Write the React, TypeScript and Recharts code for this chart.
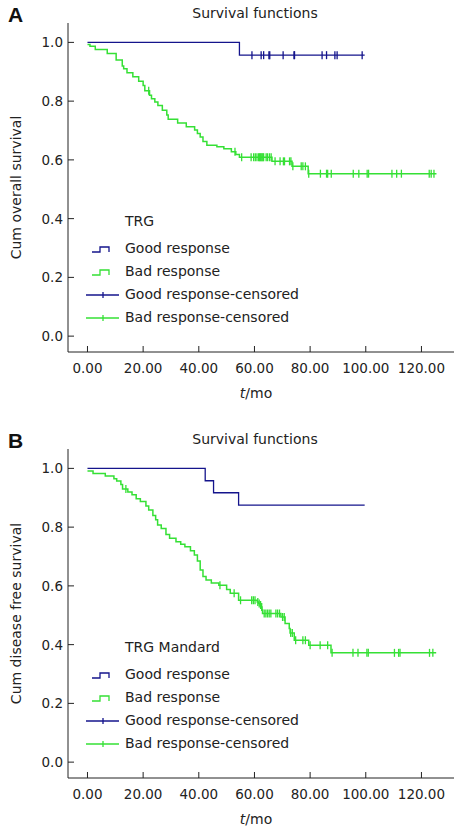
import React from "react";
import { ComposedChart, Line, Scatter, XAxis, YAxis, Legend } from "recharts";

const BLUE = "#14148c";
const GREEN = "#35e035";
const INK = "#222";
const FONT = "'DejaVu Sans', Verdana, sans-serif";

const T_TICKS = [0, 20, 40, 60, 80, 100, 120];
const S_TICKS = [0, 0.2, 0.4, 0.6, 0.8, 1.0];
const LEGEND_LABELS = ["Good response", "Bad response", "Good response-censored", "Bad response-censored"];

// Panel A: overall survival (times in months, step survival values)
const osGoodT = [0, 54.6, 99.6];
const osGoodS = [1.0, 0.9565, 0.9565];
const osGoodCens = [59.1, 62.4, 63.3, 65.2, 65.5, 70.3, 74.2, 74.4, 84.3, 85.9, 88.9, 89.7, 98.7];

const osBadT = [0, 0.9, 2.8, 7.1, 10.3, 12.5, 13.0, 14.2, 16.3, 18.4, 20.0, 20.6, 22.3, 23.0, 24.2, 25.3, 26.9, 28.5, 29.0, 32.4, 35.5, 38.5, 39.5, 40.5, 41.5, 42.9, 46.5, 49.0, 51.7, 53.3, 54.6, 66.3, 73.5, 79.3, 125.4];
const osBadS = [0.993, 0.987, 0.976, 0.962, 0.94, 0.92, 0.91, 0.897, 0.883, 0.868, 0.853, 0.835, 0.82, 0.808, 0.797, 0.785, 0.769, 0.753, 0.738, 0.726, 0.713, 0.702, 0.69, 0.678, 0.663, 0.65, 0.645, 0.638, 0.628, 0.618, 0.609, 0.595, 0.578, 0.553, 0.553];
const osBadCens = [22.0, 53.0, 55.4, 58.8, 59.7, 60.3, 60.9, 61.5, 61.8, 62.1, 62.4, 62.7, 63.0, 63.3, 64.2, 64.7, 65.4, 66.0, 67.4, 69.2, 70.4, 70.8, 72.6, 73.1, 73.8, 76.8, 77.4, 78.3, 79.5, 83.7, 85.9, 86.3, 87.6, 95.5, 97.5, 100.5, 101.0, 109.4, 111.1, 112.8, 122.8, 123.5, 124.5];

// Panel B: disease free survival
const dfsGoodT = [0, 42.3, 45.3, 54.3, 99.6];
const dfsGoodS = [1.0, 0.958, 0.917, 0.875, 0.875];
const dfsGoodCens: number[] = [];

const dfsBadT = [0, 2.0, 6.4, 9.5, 10.5, 12.0, 12.6, 14.5, 16.0, 17.5, 19.0, 21.0, 22.0, 23.5, 24.5, 25.2, 26.5, 28.2, 29.5, 31.8, 33.5, 35.0, 37.0, 38.4, 39.5, 40.5, 41.5, 42.6, 44.5, 47.2, 50.0, 51.3, 54.3, 61.0, 61.5, 62.0, 62.4, 62.7, 62.9, 69.5, 71.0, 72.5, 72.8, 74.3, 79.5, 87.5, 125.3];
const dfsBadS = [0.991, 0.983, 0.974, 0.965, 0.957, 0.945, 0.93, 0.92, 0.91, 0.897, 0.887, 0.872, 0.858, 0.84, 0.825, 0.807, 0.795, 0.775, 0.762, 0.75, 0.742, 0.733, 0.72, 0.705, 0.685, 0.654, 0.632, 0.62, 0.61, 0.602, 0.588, 0.575, 0.551, 0.545, 0.54, 0.535, 0.528, 0.518, 0.506, 0.494, 0.472, 0.455, 0.44, 0.415, 0.398, 0.372, 0.372];
const dfsBadCens = [13.8, 47.6, 52.7, 55.0, 59.0, 59.6, 60.2, 61.2, 61.7, 62.2, 62.6, 63.5, 64.1, 64.7, 65.3, 65.9, 67.7, 68.3, 69.0, 70.1, 70.7, 73.0, 73.6, 74.8, 77.4, 78.3, 80.0, 83.6, 86.3, 87.9, 95.4, 97.2, 100.4, 100.9, 110.3, 111.8, 112.3, 122.9, 124.1];

type Pt = { t: number; s: number };

const steps = (ts: number[], ss: number[]): Pt[] => ts.map((t, i) => ({ t, s: ss[i] }));

// censored marks sit on the curve level at their time
const marks = (cens: number[], ts: number[], ss: number[]): Pt[] =>
  cens.map((t) => {
    let s = ss[0];
    for (let i = 0; i < ts.length; i++) if (ts[i] <= t) s = ss[i];
    return { t, s };
  });

const Tick = ({ cx, cy, color }: any) => (
  <line x1={cx} x2={cx} y1={cy - 4} y2={cy + 4} stroke={color} strokeWidth={1.3} />
);

const YTick = ({ x, y, payload }: any) => (
  <g>
    <line x1={x + 5} x2={x + 11} y1={y} y2={y} stroke={INK} />
    <text x={x} y={y} dy={5} textAnchor="end" fill={INK} fontSize={13.5} fontFamily={FONT}>
      {payload.value.toFixed(1)}
    </text>
  </g>
);

const XTick = ({ x, y, payload }: any) => (
  <g>
    <line x1={x} x2={x} y1={y} y2={y - 6} stroke={INK} />
    <text x={x} y={y + 21} textAnchor="middle" fill={INK} fontSize={13.5} fontFamily={FONT}>
      {payload.value.toFixed(2)}
    </text>
  </g>
);

function StepIcon({ color }: { color: string }) {
  return (
    <svg width={36} height={14}>
      <path d="M7,10 H15 V5 H24 V10" fill="none" stroke={color} strokeWidth={1.3} />
    </svg>
  );
}

function CensIcon({ color }: { color: string }) {
  return (
    <svg width={36} height={14}>
      <line x1={1} x2={34} y1={7} y2={7} stroke={color} strokeWidth={1.3} />
      <line x1={18} x2={18} y1={4} y2={10} stroke={color} strokeWidth={1.3} />
    </svg>
  );
}

function LegendBox({ title }: { title: string }) {
  const icons = [
    <StepIcon color={BLUE} />,
    <StepIcon color={GREEN} />,
    <CensIcon color={BLUE} />,
    <CensIcon color={GREEN} />,
  ];
  return (
    <div style={{ fontFamily: FONT, fontSize: 14, color: INK }}>
      <div style={{ height: 23, lineHeight: "23px", paddingLeft: 40, marginBottom: 4 }}>{title}</div>
      {LEGEND_LABELS.map((l, i) => (
        <div key={l} style={{ height: 23, lineHeight: "23px", display: "flex", alignItems: "center" }}>
          {icons[i]}
          <span style={{ marginLeft: 4, whiteSpace: "nowrap" }}>{l}</span>
        </div>
      ))}
    </div>
  );
}

function Panel({
  letter, top, yLabel, legendTitle, goodT, goodS, goodCens, badT, badS, badCens,
}: {
  letter: string; top: number; yLabel: string; legendTitle: string;
  goodT: number[]; goodS: number[]; goodCens: number[];
  badT: number[]; badS: number[]; badCens: number[];
}) {
  return (
    <div style={{ position: "absolute", left: 0, top, width: 465, height: 408 }}>
      <div style={{ position: "absolute", left: 8, top: 3, fontFamily: "'Liberation Sans', Arial, sans-serif", fontWeight: 700, fontSize: 21, color: "#111" }}>
        {letter}
      </div>
      <div style={{ position: "absolute", left: 155, width: 200, top: 5, textAlign: "center", fontFamily: FONT, fontSize: 14, color: INK }}>
        Survival functions
      </div>
      <ComposedChart width={465} height={408} margin={{ top: 23, right: 11, left: 0, bottom: 0 }}>
        <XAxis
          dataKey="t" type="number" domain={[-7, 131.7]} ticks={T_TICKS} allowDataOverflow
          height={56} tickSize={0} tickMargin={0} tickLine={false} tick={<XTick />}
          axisLine={{ stroke: INK }}
          label={{
            content: ({ viewBox }: any) => (
              <text x={viewBox.x + viewBox.width / 2 - 5} y={viewBox.y + 46} textAnchor="middle" fill={INK} fontSize={14} fontFamily={FONT}>
                <tspan fontStyle="italic">t</tspan>/mo
              </text>
            ),
          }}
        />
        <YAxis
          type="number" domain={[-0.054, 1.066]} ticks={S_TICKS} allowDataOverflow
          width={68} tickSize={0} tickMargin={5} tickLine={false} tick={<YTick />}
          axisLine={{ stroke: INK }}
          label={{
            content: ({ viewBox }: any) => (
              <text
                x={16} y={viewBox.y + viewBox.height / 2} textAnchor="middle" dominantBaseline="central"
                transform={`rotate(-90 16 ${viewBox.y + viewBox.height / 2})`}
                fill={INK} fontSize={14} fontFamily={FONT}
              >
                {yLabel}
              </text>
            ),
          }}
        />
        <Legend
          layout="horizontal" verticalAlign="middle" align="center"
          wrapperStyle={{ left: 85, top: 210, width: "auto", height: "auto" }}
          content={() => <LegendBox title={legendTitle} />}
        />
        <Line data={steps(goodT, goodS)} dataKey="s" type="stepAfter" stroke={BLUE} strokeWidth={1.3} dot={false} isAnimationActive={false} />
        <Line data={steps(badT, badS)} dataKey="s" type="stepAfter" stroke={GREEN} strokeWidth={1.5} dot={false} isAnimationActive={false} />
        <Scatter data={marks(goodCens, goodT, goodS)} dataKey="s" shape={<Tick color={BLUE} />} isAnimationActive={false} />
        <Scatter data={marks(badCens, badT, badS)} dataKey="s" shape={<Tick color={GREEN} />} isAnimationActive={false} />
      </ComposedChart>
    </div>
  );
}

export default function App() {
  return (
    <div style={{ position: "absolute", left: 0, top: 0, width: 465, height: 834, background: "#fff", overflow: "hidden" }}>
      <Panel
        letter="A" top={0} yLabel="Cum overall survival" legendTitle="TRG"
        goodT={osGoodT} goodS={osGoodS} goodCens={osGoodCens}
        badT={osBadT} badS={osBadS} badCens={osBadCens}
      />
      <Panel
        letter="B" top={426} yLabel="Cum disease free survival" legendTitle="TRG Mandard"
        goodT={dfsGoodT} goodS={dfsGoodS} goodCens={dfsGoodCens}
        badT={dfsBadT} badS={dfsBadS} badCens={dfsBadCens}
      />
    </div>
  );
}
